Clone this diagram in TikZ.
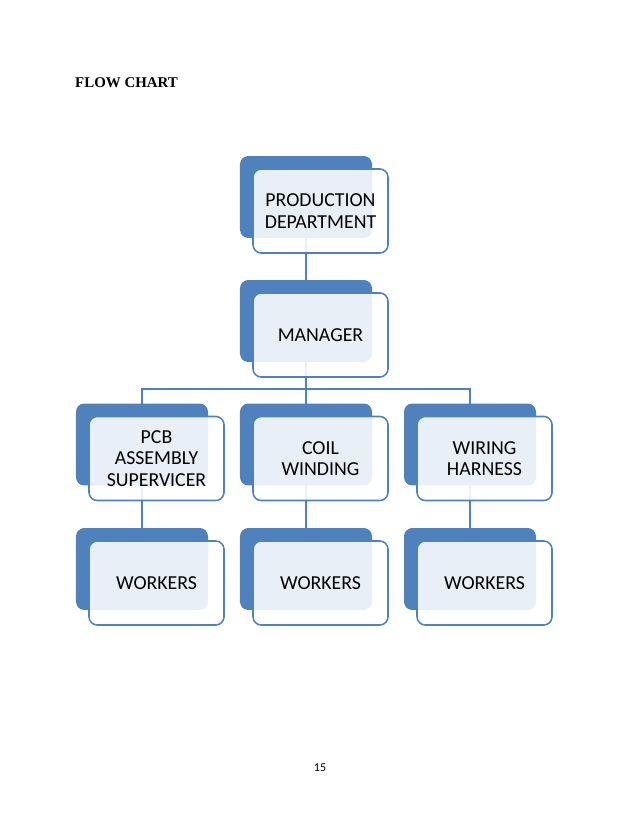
\documentclass[tikz,border=0pt]{standalone}
\usepackage{fontspec}
\setmainfont{Carlito}
\newfontfamily\titlefont{Liberation Serif}
\usetikzlibrary{positioning,backgrounds,calc}
\definecolor{officeblue}{HTML}{4F81BD}

\begin{document}
\begin{tikzpicture}[
  x=0.959pt, y=-0.959pt,
  backbox/.style={fill=officeblue,draw=none,rounded corners=8pt,
                  minimum width=126.6pt,minimum height=78.6pt,inner sep=0pt},
  frontbox/.style={draw=officeblue,line width=1.5pt,fill=white,fill opacity=0.875,
                   text opacity=1,rounded corners=8pt,align=center,
                   minimum width=129.5pt,minimum height=80.6pt,inner sep=0pt,
                   font=\fontsize{19}{20.5}\selectfont},
  link/.style={draw=officeblue,line width=1.4pt}
]
\useasboundingbox (0,0) rectangle (638,826);
\node[anchor=base west,inner sep=0pt,font=\titlefont\bfseries\fontsize{14.3}{16}\selectfont] (title) at (75,88) {FLOW CHART};
\node[backbox] (prodB) at (306,197) {};
\node[backbox] (mgrB) at (306,321) {};
\node[backbox] (pcbB) at (142,444.5) {};
\node[backbox] (coilB) at (306,444.5) {};
\node[backbox] (wireB) at (470,444.5) {};
\node[backbox] (wk1B) at (142,569) {};
\node[backbox] (wk2B) at (306,569) {};
\node[backbox] (wk3B) at (470,569) {};
\node[frontbox] (prod) at ([shift={(14.5,14)}]prodB) {PRODUCTION\\DEPARTMENT};
\node[frontbox] (mgr) at ([shift={(14.5,14)}]mgrB) {MANAGER};
\node[frontbox] (pcb) at ([shift={(14.5,14)}]pcbB) {PCB\\ASSEMBLY\\SUPERVICER};
\node[frontbox] (coil) at ([shift={(14.5,14)}]coilB) {COIL\\WINDING};
\node[frontbox] (wire) at ([shift={(14.5,14)}]wireB) {WIRING\\HARNESS};
\node[frontbox] (wk1) at ([shift={(14.5,14)}]wk1B) {WORKERS};
\node[frontbox] (wk2) at ([shift={(14.5,14)}]wk2B) {WORKERS};
\node[frontbox] (wk3) at ([shift={(14.5,14)}]wk3B) {WORKERS};
\coordinate (bus) at (306,389);
\begin{scope}[on background layer]
\draw[link] (prodB.center) -- (mgrB.center);
\draw[link] (mgrB.center) -- (bus);
\draw[link] (bus) -| (pcbB.center);
\draw[link] (bus) -- (coilB.center);
\draw[link] (bus) -| (wireB.center);
\draw[link] (pcbB.center) -- (wk1B.center);
\draw[link] (coilB.center) -- (wk2B.center);
\draw[link] (wireB.center) -- (wk3B.center);
\end{scope}
\node[font=\fontsize{11.5}{13}\selectfont] (page) at (320,768) {15};
\end{tikzpicture}
\end{document}
